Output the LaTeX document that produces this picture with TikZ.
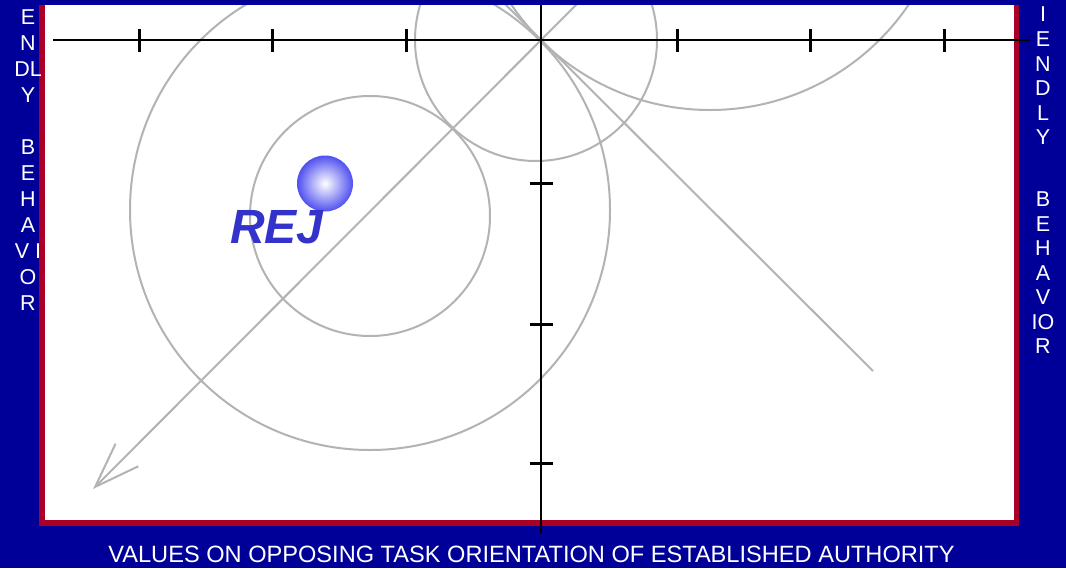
\documentclass[tikz,border=0pt]{standalone}
\usepackage{fontspec}
\setmainfont{Liberation Sans}
\usetikzlibrary{arrows.meta}

\definecolor{slideblue}{RGB}{0,0,153}
\definecolor{framered}{RGB}{170,0,40}
\definecolor{guidegray}{RGB}{179,179,179}
\definecolor{rejblue}{RGB}{51,51,204}
\definecolor{ballblue}{RGB}{80,80,240}

\begin{document}
\begin{tikzpicture}[x=1pt, y=-1pt,
    guide/.style={draw=guidegray, line width=2pt},
    axis/.style={line width=2.6pt},
    tickmark/.style={line width=3pt},
    sideword/.style={text=white, align=center, inner sep=0pt, anchor=north},
    caption/.style={text=white, font=\fontsize{23.6}{27}\selectfont}]
    \useasboundingbox (0,0) rectangle (1066,568);
    \fill[slideblue] (0,0) rectangle (1066,568);

    \coordinate (origin) at (541,40);
    \coordinate (tail) at (581,0);
    \coordinate (tip) at (93,489);
    \coordinate (upleft) at (501,0);
    \coordinate (lowright) at (873,371);

    \begin{scope}
    \clip (0,5.5) rectangle (1066,568);
    \draw[draw=framered, line width=5.5pt, fill=white] (41.8,-20) rectangle (1016.5,523);
    \draw[guide] (370,210) circle[radius=240pt];
    \draw[guide] (370,216) circle[radius=120pt];
    \draw[guide] (536,40) circle[radius=121pt];
    \draw[guide] (710,-130) circle[radius=240pt];
    \draw[guide, -{Straight Barb[length=45pt, width=32pt]}] (tail) -- (tip);
    \draw[guide] (upleft) -- (lowright);
    \draw[axis] (53,40) -- (1030,40);
    \draw[axis] (541,5) -- (541,533);
    \foreach \tx in {139,272,406,677,810,944}
        \draw[tickmark] (\tx,29) -- (\tx,52);
    \foreach \ty in {183,324,463}
        \draw[tickmark] (530,\ty) -- (553,\ty);
    \end{scope}

    \node[circle, minimum size=56pt, inner sep=0pt, inner color=white, outer color=ballblue] (ball) at (325,183.5) {};
    \node[text=rejblue, font=\fontsize{48}{48}\selectfont\bfseries\itshape, inner sep=0pt] (rej) at (277,227) {REJ};

    \node[sideword, font=\fontsize{21.5}{25.9}\selectfont] (leftfriend) at (28,10) {E\\N\\DL\\Y};
    \node[sideword, font=\fontsize{21.5}{25.9}\selectfont] (leftbehavior) at (28,140) {B\\E\\H\\A\\V I\\O\\R};
    \node[sideword, font=\fontsize{21.5}{24.6}\selectfont] (rightfriend) at (1043,7) {I\\E\\N\\D\\L\\Y};
    \node[sideword, font=\fontsize{21.5}{24.5}\selectfont] (rightbehavior) at (1043,192) {B\\E\\H\\A\\V\\IO\\R};
    \node[caption] (axislabel) at (531.5,554.5) {VALUES ON OPPOSING TASK ORIENTATION OF ESTABLISHED AUTHORITY};
\end{tikzpicture}
\end{document}
